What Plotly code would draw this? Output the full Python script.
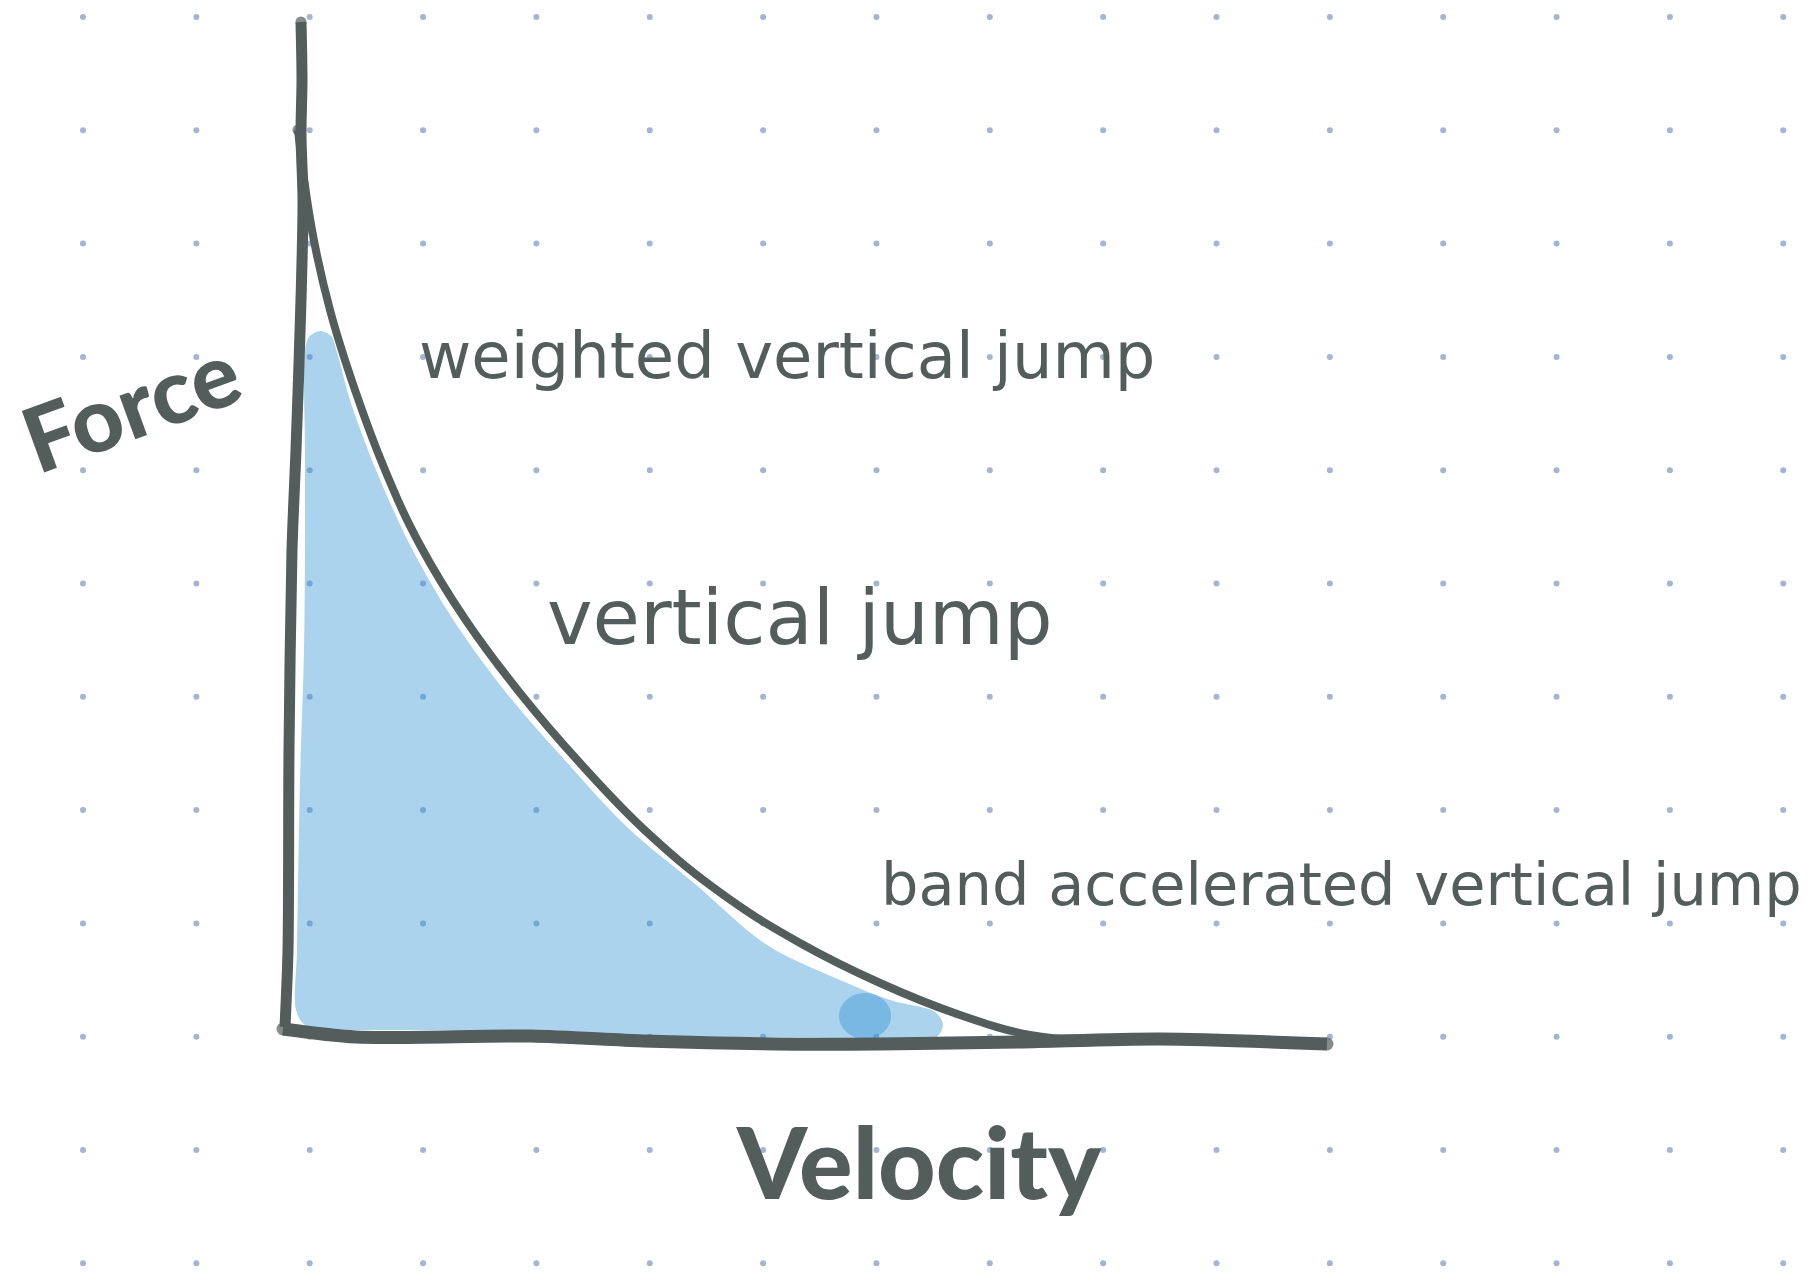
import numpy as np
import plotly.graph_objects as go

# ---------------- data (sketch units: origin at the drawn axes corner) ----------------
# force-velocity curve
curve_velocity = [13, 27, 45, 70, 100, 135, 180, 235, 295, 365, 440, 515, 595, 675, 745, 795]
curve_force = [897, 797, 717, 637, 557, 482, 408, 334, 264, 192, 131, 84, 44, 12, -8, -13]

# hand-drawn axes
yaxis_velocity = [16, 17, 16, 18, 16, 11, 7, 4, 3, 0]
yaxis_force = [1005, 947, 892, 827, 727, 577, 477, 277, 77, 0]
xaxis_velocity = [-2, 71, 246, 358, 490, 595, 735, 875, 1042]
xaxis_force = [-2, -10, -9, -14, -17, -17, -15, -12, -17]

# highlighted (blue) region under the curve
region_velocity = [20, 24, 35, 46, 52, 65, 91, 125, 167, 219, 277, 343, 410, 482, 548, 605, 650,
                   658, 650, 555, 455, 355, 275, 165, 45, 20, 11, 12, 15, 19, 20, 20, 20]
region_force = [677, 690, 696, 691, 675, 627, 557, 482, 409, 337, 270, 199, 143, 82, 50, 27, 15,
                2, -11, -11, -10, -8, -4, -3, -2, 2, 17, 77, 247, 377, 477, 577, 677]

# darker highlight spot
spot_center = (580, 11)
spot_radius = (26, 23)

# labels
label_texts = ["weighted vertical jump", "vertical jump", "band accelerated vertical jump"]
label_velocity = [502, 515, 1056]
label_force = [671, 410, 143]
label_sizes = [64, 77, 59]

x_title = "Velocity"
y_title = "Force"

# ---------------- styling ----------------
INK = "#525d5c"
DOT = "#a3b5d4"
HIGHLIGHT = "rgba(47,145,212,0.40)"
X_RANGE = [-285, 1525]
Y_RANGE = [-259, 1027]

fig = go.Figure()

# dot-grid paper background
dot_x = -202 + 113.35 * np.arange(16)
dot_y = 1010 - 113.3 * np.arange(12)
gx, gy = np.meshgrid(dot_x, dot_y)
fig.add_trace(go.Scatter(x=gx.ravel(), y=gy.ravel(), mode="markers",
                         marker=dict(size=6, color=DOT), hoverinfo="skip", showlegend=False))

# highlighted area
fig.add_trace(go.Scatter(x=region_velocity, y=region_force, mode="lines", fill="toself",
                         fillcolor=HIGHLIGHT,
                         line=dict(width=0, color="rgba(0,0,0,0)", shape="spline", smoothing=0.9,
                                   simplify=False),
                         hoverinfo="skip", showlegend=False))

# darker spot
t = np.linspace(0, 2 * np.pi, 60)
fig.add_trace(go.Scatter(x=spot_center[0] + spot_radius[0] * np.cos(t),
                         y=spot_center[1] + spot_radius[1] * np.sin(t),
                         mode="lines", fill="toself", fillcolor=HIGHLIGHT,
                         line=dict(width=0, color="rgba(0,0,0,0)", simplify=False),
                         hoverinfo="skip", showlegend=False))

# curve
fig.add_trace(go.Scatter(x=curve_velocity, y=curve_force, mode="lines",
                         line=dict(color=INK, width=8, shape="spline", smoothing=1.2, simplify=False),
                         hoverinfo="skip", showlegend=False))

# axes strokes
for xs, ys, w in [(yaxis_velocity, yaxis_force, 11), (xaxis_velocity, xaxis_force, 13)]:
    fig.add_trace(go.Scatter(x=xs, y=ys, mode="lines",
                             line=dict(color=INK, width=w, shape="spline", smoothing=0.8,
                                       simplify=False),
                             hoverinfo="skip", showlegend=False))

# rounded stroke ends
cap_x = [yaxis_velocity[0], xaxis_velocity[0], xaxis_velocity[-1], curve_velocity[0]]
cap_y = [yaxis_force[0], xaxis_force[0], xaxis_force[-1], curve_force[0]]
cap_s = [11, 13, 13, 11]
fig.add_trace(go.Scatter(x=cap_x, y=cap_y, mode="markers",
                         marker=dict(size=cap_s, color=INK, line=dict(width=0)),
                         hoverinfo="skip", showlegend=False))

# labels
for txt, vx, fy, sz in zip(label_texts, label_velocity, label_force, label_sizes):
    fig.add_annotation(x=vx, y=fy, text=txt, showarrow=False, xanchor="center", yanchor="middle",
                       font=dict(family="DejaVu Sans", size=sz, color=INK))

fig.add_annotation(x=634, y=-133, text=x_title, showarrow=False, xanchor="center", yanchor="middle",
                   font=dict(family="Lato", size=100, color=INK, weight=900))
fig.add_annotation(x=-155, y=623, text=y_title, showarrow=False, xanchor="center", yanchor="middle",
                   textangle=-20, font=dict(family="Lato", size=90, color=INK, weight=900))

fig.update_layout(
    width=1810, height=1286,
    margin=dict(l=0, r=0, t=0, b=0, pad=0),
    paper_bgcolor="white", plot_bgcolor="white",
    xaxis=dict(range=X_RANGE, visible=False, fixedrange=True),
    yaxis=dict(range=Y_RANGE, visible=False, fixedrange=True),
    showlegend=False,
)

fig.write_html("out.html", config={"displayModeBar": False},
               post_script="document.body.style.margin='0';document.body.style.overflow='hidden';")
